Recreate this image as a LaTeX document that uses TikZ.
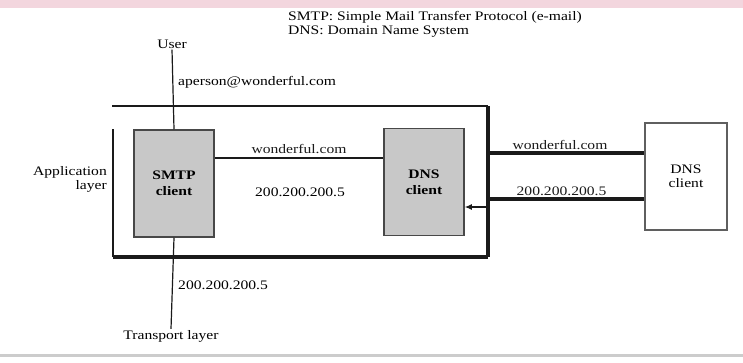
\documentclass[tikz,border=0pt]{standalone}
\usepackage{fontspec}
\setmainfont{Liberation Serif}[FakeStretch=1.2]
\usetikzlibrary{arrows.meta, positioning, calc}
\definecolor{darkline}{HTML}{1A1A1A}
\definecolor{shade}{HTML}{C8C8C8}
\definecolor{band}{HTML}{F3D6DE}

\begin{document}
\begin{tikzpicture}[
    x=1pt, y=-1pt,
    font=\fontsize{13}{14}\selectfont,
    client/.style={rectangle, draw=darkline!80, fill=shade, line width=1.5pt,
                   minimum width=80pt, minimum height=107pt, align=center,
                   font=\fontsize{13}{16}\selectfont\bfseries},
    server/.style={rectangle, draw=darkline!70, line width=1.2pt,
                   minimum width=82pt, minimum height=107pt, align=center},
    thinline/.style={line width=1.2pt, color=darkline},
    thickline/.style={line width=4pt, color=darkline},
    arrow/.style={-{Latex[length=7pt, width=6pt]}, line width=1.2pt, color=darkline},
    label/.style={inner sep=1pt}
]
\useasboundingbox (0,0) rectangle (743,362);

% Slide decoration
\fill[band] (0,0) rectangle (743,8);
\draw[gray!40, line width=3pt] (0,355) -- (743,355);

% Legend
\node[label, anchor=west] (legsmtp) at (287,17) {SMTP: Simple Mail Transfer Protocol (e-mail)};
\node[label, below=1pt of legsmtp.south west, anchor=north west] (legdns) {DNS: Domain Name System};

% Clients
\node[client] (smtp) at (174,183.5) {SMTP\\client};
\node[client] (dnsc) at (424,182) {DNS\\client};
\node[server] (dnss) at (686,176.5) {DNS\\client};

% Application layer frame
\coordinate (appNW) at (112,106);
\coordinate (appNE) at (488,106);
\coordinate (appSW) at (113,257);
\coordinate (appSE) at (488,257);
\draw[thinline] (appNW) -- (appNE);
\draw[thinline] (appSW) -- (113,129);
\draw[thickline] (appSW) -- (appSE);
\draw[thickline, line cap=square] (appNE) -- (appSE);
\node[label, anchor=east, align=right] (applayer) at (108,179) {Application\\layer};

% User and transport layer
\node[label] (user) at (172,44) {User};
\node[label] (transport) at (171,336) {Transport layer};
\draw[thinline] (user.south) -- (smtp.north);
\draw[thinline] (smtp.south) -- (transport.north);
\node[label, anchor=west] (mail) at (177,82) {aperson@wonderful.com};
\node[label, anchor=west] (ipdown) at (177,285) {200.200.200.5};

% SMTP <-> DNS client
\draw[thinline] (smtp.east |- 0,158) -- (dnsc.west |- 0,158)
    node[label, midway, above=3pt] (query) {wonderful.com};
\node[label] (answer) at (300,192) {200.200.200.5};

% DNS client <-> DNS server
\draw[thickline] (appNE |- 0,153) -- (dnss.west |- 0,153)
    node[label, pos=0.46, above=0pt] (remquery) {wonderful.com};
\draw[thickline] (appNE |- 0,199) -- (dnss.west |- 0,199)
    node[label, pos=0.47, above=0pt] (remanswer) {200.200.200.5};
\draw[arrow] (appNE |- 0,207) -- (dnsc.east |- 0,207);

\end{tikzpicture}
\end{document}
